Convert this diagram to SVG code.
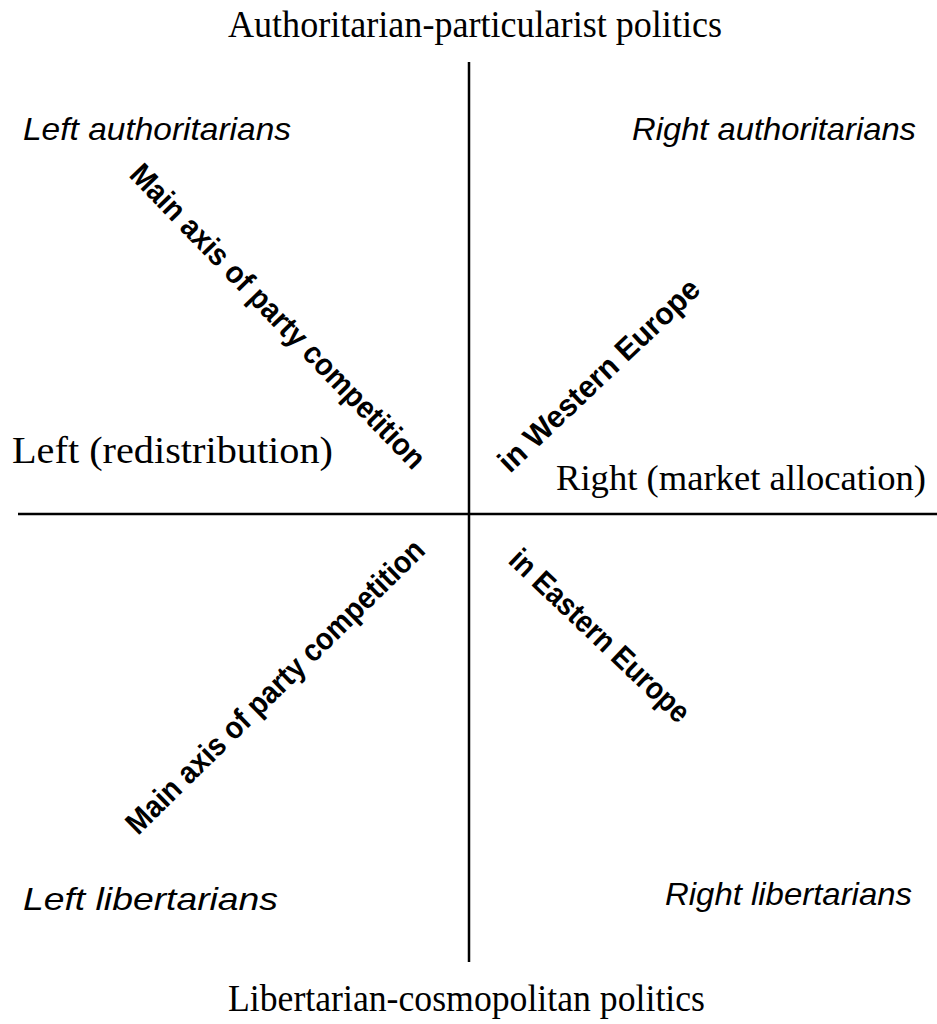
<svg xmlns="http://www.w3.org/2000/svg" width="937" height="1024" viewBox="0 0 937 1024">
<style>
.ax{stroke:#000;stroke-width:2.5;fill:none}
.pole{font-family:"Liberation Serif","Times New Roman",serif;font-size:38px;fill:#000}
.quad{font-family:"Liberation Sans",Arial,sans-serif;font-size:32px;font-style:italic;fill:#000}
.diag{font-family:"Liberation Sans",Arial,sans-serif;font-size:31px;font-weight:bold;fill:#000}
</style>
<rect width="937" height="1024" fill="#fff"/>
<g id="axes">
<line class="ax" x1="469" y1="62" x2="469" y2="962"/>
<line class="ax" x1="18" y1="514" x2="946" y2="514"/>
</g>
<g id="pole-top"><text class="pole" x="228" y="37" textLength="494" lengthAdjust="spacingAndGlyphs">Authoritarian-particularist politics</text></g>
<g id="pole-bottom"><text class="pole" x="228" y="1011" textLength="477" lengthAdjust="spacingAndGlyphs">Libertarian-cosmopolitan politics</text></g>
<g id="pole-left"><text class="pole" x="12" y="463" textLength="321" lengthAdjust="spacingAndGlyphs">Left (redistribution)</text></g>
<g id="pole-right"><text class="pole" x="556" y="490" style="font-size:36.5px" textLength="370" lengthAdjust="spacingAndGlyphs">Right (market allocation)</text></g>
<g id="q-left-auth"><text class="quad" x="23" y="140" textLength="268" lengthAdjust="spacingAndGlyphs">Left authoritarians</text></g>
<g id="q-right-auth"><text class="quad" x="632" y="140" textLength="284" lengthAdjust="spacingAndGlyphs">Right authoritarians</text></g>
<g id="q-left-lib"><text class="quad" x="23" y="910" textLength="255" lengthAdjust="spacingAndGlyphs">Left libertarians</text></g>
<g id="q-right-lib"><text class="quad" x="665" y="905" textLength="247" lengthAdjust="spacingAndGlyphs">Right libertarians</text></g>
<g id="diag-west-main"><text class="diag" transform="translate(128,176) rotate(46)" textLength="410" lengthAdjust="spacingAndGlyphs">Main axis of party competition</text></g>
<g id="diag-west-region"><text class="diag" transform="translate(510,474) rotate(-43.5)" textLength="265" lengthAdjust="spacingAndGlyphs">in Western Europe</text></g>
<g id="diag-east-main"><text class="diag" transform="translate(138,836) rotate(-44.5)" textLength="405" lengthAdjust="spacingAndGlyphs">Main axis of party competition</text></g>
<g id="diag-east-region"><text class="diag" transform="translate(507,562) rotate(43.5)" textLength="236" lengthAdjust="spacingAndGlyphs">in Eastern Europe</text></g>
</svg>
